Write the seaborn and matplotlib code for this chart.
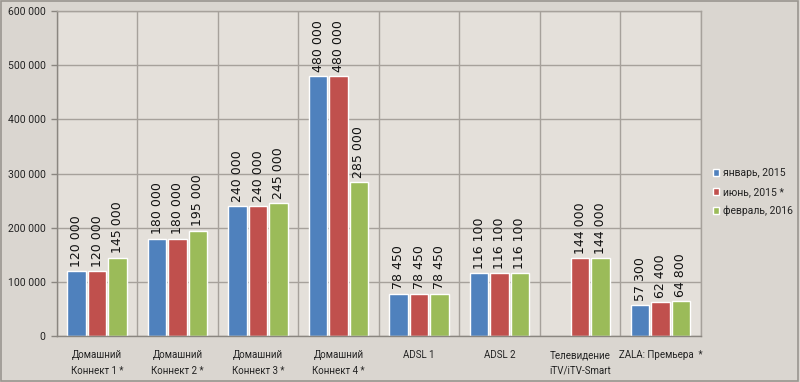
import numpy as np
import pandas as pd
import matplotlib
matplotlib.use("Agg")
import matplotlib.pyplot as plt
import seaborn as sns
from matplotlib.patches import Rectangle

categories = ["Домашний\nКоннект 1 *", "Домашний\nКоннект 2 *", "Домашний\nКоннект 3 *",
              "Домашний\nКоннект 4 *", "ADSL 1", "ADSL 2", "Телевидение\niTV/iTV-Smart",
              "ZALA: Премьера  *"]
series = ["январь, 2015", "июнь, 2015 *", "февраль, 2016"]
jan_2015 = [120000, 180000, 240000, 480000, 78450, 116100, np.nan, 57300]
jun_2015 = [120000, 180000, 240000, 480000, 78450, 116100, 144000, 62400]
feb_2016 = [145000, 195000, 245000, 285000, 78450, 116100, 144000, 64800]
yticks = [0, 100000, 200000, 300000, 400000, 500000, 600000]
colors = ["#4f81bd", "#c0504d", "#9bbb59"]

rows = []
for s, vals in zip(series, [jan_2015, jun_2015, feb_2016]):
    for c, v in zip(categories, vals):
        rows.append({"cat": c, "series": s, "value": v})
df = pd.DataFrame(rows)

sns.set_theme(style="white")
plt.rcParams['font.family'] = ['Roboto', 'DejaVu Sans']

fig = plt.figure(figsize=(8, 3.82), dpi=100)
fig.patch.set_facecolor("#dad6d0")
fig.patches.append(Rectangle((0.001, 0.002), 0.997, 0.995, transform=fig.transFigure,
                             fill=False, edgecolor="#9a9690", linewidth=1.2))
ax = fig.add_axes([0.071, 0.120, 0.805, 0.851])
ax.set_facecolor("#e4e0da")

sns.barplot(data=df, x="cat", y="value", hue="series", order=categories,
            hue_order=series, palette=colors, width=0.76, gap=0.1,
            saturation=1, ax=ax, legend=True, errorbar=None)

for container in ax.containers:
    labels = []
    for v in container.datavalues:
        if np.isnan(v):
            labels.append("")
        else:
            labels.append(f"{int(v):,}".replace(",", " "))
    ax.bar_label(container, labels=labels, rotation=90, padding=3,
                 fontsize=9, color="#111111", family=['DejaVu Sans'])

ax.set_ylim(0, 600000)
ax.set_xlim(-0.5, len(categories) - 0.5)
ax.set_yticks(yticks)
ax.set_yticklabels([f"{t:,}".replace(",", " ") for t in yticks], fontsize=7.5, color="#222222")
ax.set_xticks(range(len(categories)))
ax.set_xticklabels(categories, fontsize=7, color="#222222", linespacing=1.7)
ax.tick_params(axis="x", length=0, pad=10)
ax.tick_params(axis="y", length=4, width=1, color="#8a8680", left=True, pad=4)
ax.set_xlabel("")
ax.set_ylabel("")

gridc = "#a6a19b"
for t in yticks:
    ax.axhline(t, color=gridc, linewidth=1, zorder=0)
for i in range(len(categories) + 1):
    ax.axvline(i - 0.5, color=gridc, linewidth=1, zorder=0)
ax.set_axisbelow(True)
for sp in ax.spines.values():
    sp.set_color(gridc)
    sp.set_linewidth(1)
ax.spines["bottom"].set_color("#8a8680")
ax.spines["left"].set_color("#8a8680")

leg = ax.legend(loc="upper left", bbox_to_anchor=(1.012, 0.53), frameon=False,
                fontsize=7.5, handlelength=0.65, handleheight=0.65, handletextpad=0.35,
                labelspacing=0.85, borderaxespad=0)
for txt in leg.get_texts():
    txt.set_color("#222222")

fig.savefig("out.png", dpi=100, facecolor=fig.get_facecolor())
